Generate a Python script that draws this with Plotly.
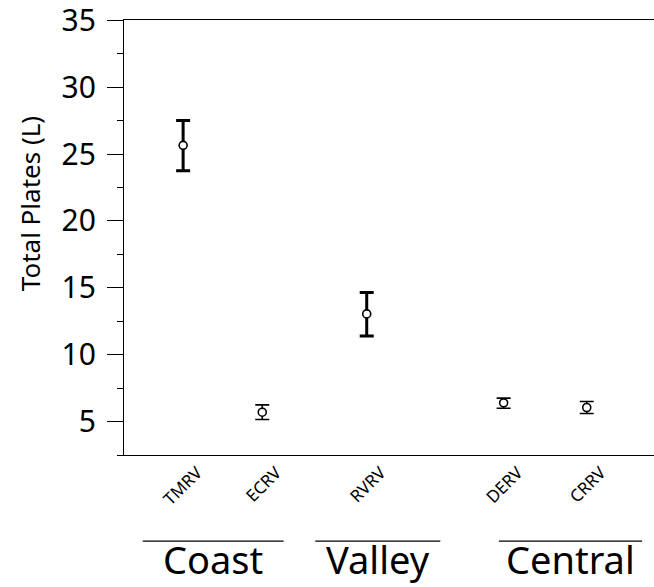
import plotly.graph_objects as go

# Data
sites = ["TMRV", "ECRV", "RVRV", "DERV", "CRRV"]
site_pos = [1.0, 2.0, 3.32, 5.05, 6.1]
means = [25.65, 5.7, 13.05, 6.4, 6.05]
upper = [27.5, 6.25, 14.65, 6.75, 6.5]
lower = [23.75, 5.15, 11.4, 6.0, 5.6]
bar_width = [3, 1.6, 3, 1.6, 1.6]

groups = ["Coast", "Valley", "Central"]
group_start = [0.49, 2.67, 4.99]
group_end = [2.27, 4.25, 6.8]

y_ticks = [5, 10, 15, 20, 25, 30, 35]

FONT = "Noto Sans"

fig = go.Figure()
for i, s in enumerate(sites):
    fig.add_trace(go.Scatter(
        x=[site_pos[i]], y=[means[i]], mode="markers",
        marker=dict(symbol="circle", size=8, color="white",
                    line=dict(color="black", width=1.6)),
        error_y=dict(type="data", symmetric=False,
                     array=[upper[i] - means[i]], arrayminus=[means[i] - lower[i]],
                     color="black", thickness=bar_width[i], width=7),
        showlegend=False, hoverinfo="skip"))

for g, a, b in zip(groups, group_start, group_end):
    fig.add_shape(type="line", xref="x", yref="paper", x0=a, x1=b, y0=-0.198, y1=-0.198,
                  line=dict(color="black", width=1.2))
    fig.add_annotation(x=(a + b) / 2, y=-0.302, xref="x", yref="paper", text=g,
                       showarrow=False, yanchor="bottom", borderpad=0,
                       font=dict(family=FONT, size=38, color="black"))

fig.add_annotation(x=-0.177, y=0.577, xref="paper", yref="paper", text="Total Plates (L)",
                   textangle=-90, showarrow=False, xanchor="center", yanchor="middle",
                   font=dict(family=FONT, size=26, color="black"))

fig.update_layout(
    width=654, height=587,
    margin=dict(l=124, r=0, t=20, b=132),
    paper_bgcolor="white", plot_bgcolor="white",
    font=dict(family=FONT, color="black"),
    xaxis=dict(range=[0.253, 6.95], tickmode="array", tickvals=site_pos, ticktext=sites,
               tickangle=-45, ticks="", showgrid=False, zeroline=False,
               showline=True, linecolor="black", linewidth=1.2, mirror=True,
               tickfont=dict(family=FONT, size=17, color="black"),
               ticklabelshift=14, ticklabelstandoff=0),
    yaxis=dict(range=[2.5, 35.02], tickmode="array", tickvals=y_ticks,
               ticks="outside", ticklen=16, tickwidth=1, tickcolor="black",
               minor=dict(dtick=2.5, tick0=2.5, ticks="outside", ticklen=6, tickcolor="black", tickwidth=1),
               showgrid=False, zeroline=False, showline=True, linecolor="black", linewidth=1.2,
               tickfont=dict(family=FONT, size=30, color="black"),
               ticklabelstandoff=5, ticklabeloverflow="allow"),
)

fig.write_html("out.html", config={"displayModeBar": False},
               post_script="document.body.style.margin='0px';")
